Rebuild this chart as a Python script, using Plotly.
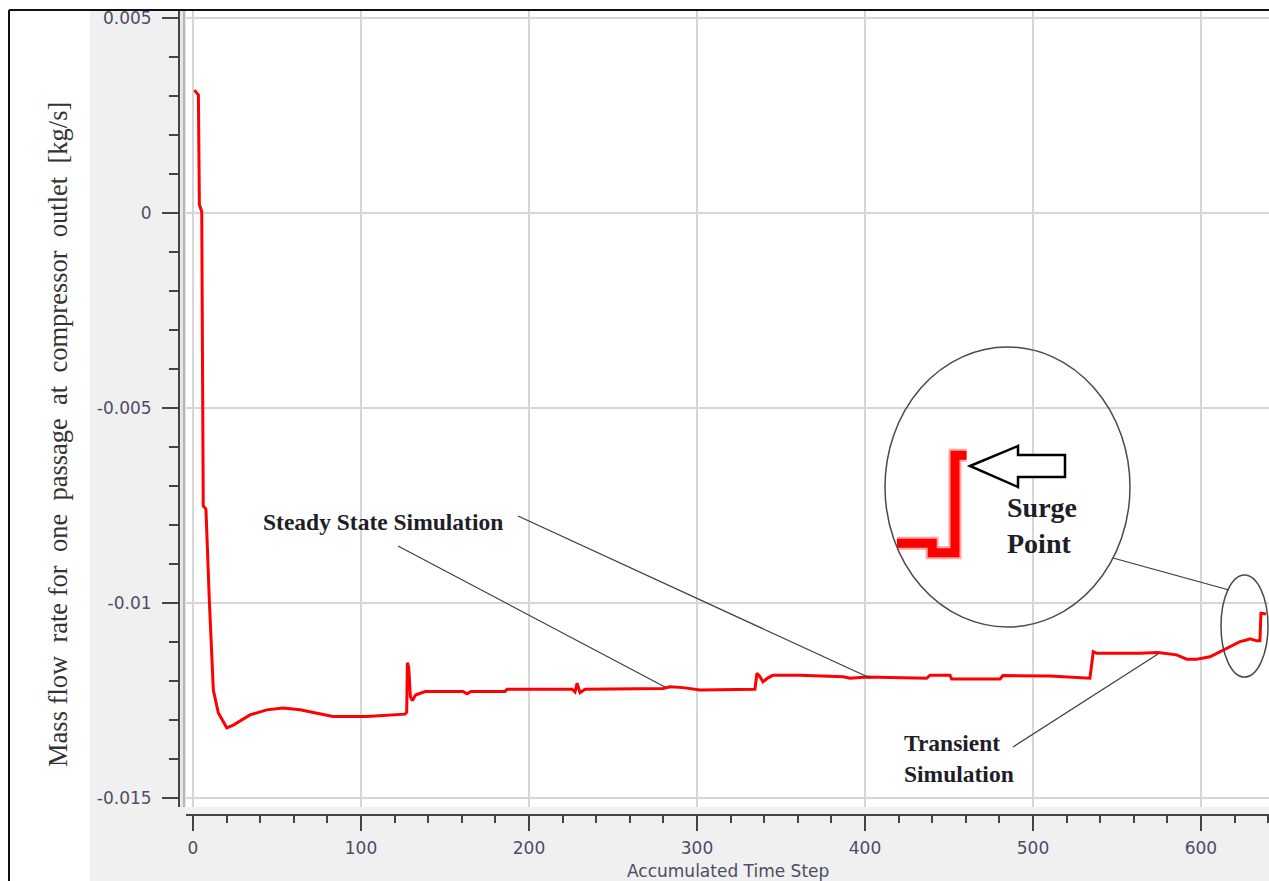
import plotly.graph_objects as go

# ---- data -------------------------------------------------------------
time_step = [0.8, 2.2, 3.2, 3.8, 5.2, 6.1, 7.7, 9.7, 12.1, 15.1, 20.1, 24.0,
             33.9, 43.9, 53.6, 63.7, 73.6, 83.3, 103.4, 123.2, 126.2, 127.2,
             127.6, 128.4, 129.4, 130.6, 132.5, 138.1, 160.7, 163.1, 165.5,
             185.7, 187.0, 225.6, 227.4, 228.6, 230.4, 233.3, 279.8, 284.0,
             291.7, 301.8, 334.5, 335.7, 337.5, 339.3, 342.3, 345.2, 361.3,
             387.1, 391.1, 401.0, 436.7, 438.7, 450.6, 451.6, 480.4, 482.1,
             510.1, 533.9, 535.9, 538.1, 563.7, 574.4, 585.5, 591.5, 597.4,
             605.4, 613.1, 619.0, 623.2, 627.2, 629.2, 633.3, 635.1, 635.7,
             638.7]
mass_flow = [0.00315, 0.00306, 0.00303, 0.00021, 0.00003, -0.00751, -0.00759,
             -0.00992, -0.01223, -0.01282, -0.01320, -0.01313, -0.01287,
             -0.01274, -0.01269, -0.01274, -0.01282, -0.01291, -0.01291,
             -0.01285, -0.01285, -0.01280, -0.01153, -0.01165, -0.01240,
             -0.01250, -0.01236, -0.01227, -0.01227, -0.01233, -0.01227,
             -0.01227, -0.01221, -0.01221, -0.01228, -0.01206, -0.01230,
             -0.01221, -0.01219, -0.01215, -0.01217, -0.01223, -0.01221,
             -0.01180, -0.01189, -0.01202, -0.01192, -0.01185, -0.01185,
             -0.01189, -0.01193, -0.01190, -0.01193, -0.01185, -0.01185,
             -0.01195, -0.01195, -0.01186, -0.01187, -0.01193, -0.01125,
             -0.01129, -0.01129, -0.01127, -0.01133, -0.01144, -0.01144,
             -0.01138, -0.01121, -0.01108, -0.01099, -0.01095, -0.01092,
             -0.01097, -0.01097, -0.01026, -0.01028]

# magnified view of the last steps (surge point)
zoom_step = [626.5, 630.9, 630.9, 633.75, 633.75, 635.2]
zoom_flow = [-0.01085, -0.01085, -0.01092, -0.01092, -0.01019, -0.01019]

x_ticks = [0, 100, 200, 300, 400, 500, 600]
y_ticks = [-0.015, -0.01, -0.005, 0, 0.005]
y_tick_text = ["-0.015", "-0.01", "-0.005", "0", "0.005"]

# ---- figure geometry (pixels) -----------------------------------------
W, H = 1269, 881


def fx(p):
    return p / W


def fy(p):
    return 1 - p / H


TICK_FONT = dict(family="DejaVu Sans", size=17, color="#4d4d66")
SERIF_B = "Liberation Serif"

fig = go.Figure()
fig.add_trace(go.Scatter(x=time_step, y=mass_flow, mode="lines",
                         line=dict(color="#ff0000", width=3),
                         showlegend=False, hoverinfo="skip"))
# inset trace: soft halo + solid core
fig.add_trace(go.Scatter(x=zoom_step, y=zoom_flow, mode="lines",
                         line=dict(color="rgba(255,0,0,0.35)", width=13),
                         xaxis="x2", yaxis="y2", showlegend=False,
                         hoverinfo="skip"))
fig.add_trace(go.Scatter(x=zoom_step, y=zoom_flow, mode="lines",
                         line=dict(color="#ff0000", width=9),
                         xaxis="x2", yaxis="y2", showlegend=False,
                         hoverinfo="skip"))

axis_common = dict(showgrid=True, gridcolor="#d6d6d6", gridwidth=1.5,
                   zeroline=False, showline=True, linecolor="#444444",
                   linewidth=2, ticks="outside", tickcolor="#444444",
                   tickwidth=2, tickfont=TICK_FONT, automargin=False,
                   anchor="free")

fig.update_layout(
    width=W, height=H,
    margin=dict(l=0, r=0, t=0, b=0, pad=0),
    paper_bgcolor="#f0f0f0",
    plot_bgcolor="#ffffff",
    xaxis=dict(domain=[fx(186), 1.0], range=[-4.17, 640.5],
               position=fy(815), tickmode="array", tickvals=x_ticks,
               ticklen=15, ticklabelstandoff=3,
               minor=dict(tickmode="linear", tick0=0, dtick=20, ticklen=7,
                          tickcolor="#444444", tickwidth=2, ticks="outside",
                          showgrid=False),
               **axis_common),
    yaxis=dict(domain=[fy(807), fy(11)], range=[-0.015231, 0.005179],
               position=fx(179), tickmode="array", tickvals=y_ticks,
               ticktext=y_tick_text, ticklen=16, ticklabelstandoff=7,
               minor=dict(tickmode="linear", tick0=0, dtick=0.001,
                          ticklen=9, tickcolor="#444444", tickwidth=2,
                          ticks="outside", showgrid=False),
               **axis_common),
    xaxis2=dict(domain=[fx(885), fx(985)], range=[625, 637.5],
                anchor="y2", visible=False),
    yaxis2=dict(domain=[fy(570), fy(430)], range=[-0.01105, -0.01000],
                anchor="x2", visible=False),
)

shapes = []
# white surround and outer frame
shapes.append(dict(type="rect", xref="paper", yref="paper", x0=0, x1=fx(90),
                   y0=0, y1=1, fillcolor="#ffffff", line_width=0,
                   layer="below"))
shapes.append(dict(type="rect", xref="paper", yref="paper", x0=0, x1=1,
                   y0=fy(10), y1=1, fillcolor="#ffffff", line_width=0,
                   layer="below"))
shapes.append(dict(type="line", xref="paper", yref="paper", x0=fx(9),
                   x1=1, y0=fy(10), y1=fy(10),
                   line=dict(color="#111111", width=2)))
shapes.append(dict(type="line", xref="paper", yref="paper", x0=fx(9),
                   x1=fx(9), y0=0, y1=fy(10),
                   line=dict(color="#111111", width=2)))
# double frame strip beside the value axis
shapes.append(dict(type="rect", xref="paper", yref="paper", x0=fx(180.5),
                   x1=fx(186), y0=fy(807), y1=fy(11), fillcolor="#e4e4e4",
                   line_width=0))
shapes.append(dict(type="line", xref="paper", yref="paper", x0=fx(184),
                   x1=fx(184), y0=fy(807), y1=fy(11),
                   line=dict(color="#a8a8a8", width=1.5)))

# callout ellipses
shapes.append(dict(type="circle", xref="paper", yref="paper",
                   x0=fx(885), x1=fx(1130), y0=fy(627), y1=fy(347),
                   line=dict(color="#4a4a4a", width=1.5)))
shapes.append(dict(type="circle", xref="paper", yref="paper",
                   x0=fx(1221), x1=fx(1268), y0=fy(677), y1=fy(575),
                   line=dict(color="#4a4a4a", width=1.5)))

# leader lines
leaders = [((398, 546), (665, 687)),
           ((518, 516), (870, 678)),
           ((1013, 747), (1158, 654)),
           ((1113, 558), (1229, 590))]
for (xa, ya), (xb, yb) in leaders:
    shapes.append(dict(type="line", xref="paper", yref="paper",
                       x0=fx(xa), y0=fy(ya), x1=fx(xb), y1=fy(yb),
                       line=dict(color="#3c3c3c", width=1.2)))

# hollow arrow pointing at the surge point
arrow_pts = [(970, 466), (1018, 446), (1018, 455), (1065, 455), (1065, 477),
             (1018, 477), (1018, 487)]
path = "M " + " L ".join(f"{fx(a):.5f},{fy(b):.5f}" for a, b in arrow_pts) + " Z"
shapes.append(dict(type="path", xref="paper", yref="paper", path=path,
                   fillcolor="#ffffff", line=dict(color="#000000", width=2.5)))

fig.update_layout(shapes=shapes)

annotations = [
    dict(text="Steady State Simulation", x=fx(383), y=fy(522),
         font=dict(family=SERIF_B, size=23.5, color="#1e1e28")),
    dict(text="Transient<br>Simulation", x=fx(902), y=fy(758),
         xanchor="left", align="left",
         font=dict(family=SERIF_B, size=23.5, color="#1e1e28")),
    dict(text="Surge<br>Point", x=fx(1005), y=fy(525),
         xanchor="left", align="left",
         font=dict(family=SERIF_B, size=28, color="#1e1e28")),
    dict(text="Accumulated Time Step", x=fx(728), y=fy(871),
         font=dict(family="DejaVu Sans", size=17, color="#4d4d66")),
    dict(text="Mass flow\u00a0 rate for\u00a0 one\u00a0 passage\u00a0 at\u00a0 "
              "compressor\u00a0 outlet\u00a0 [kg/s]",
         x=fx(58), y=fy(435), textangle=-90,
         font=dict(family="Liberation Serif", size=26.5, color="#333333")),
]
for a in annotations:
    a.setdefault("xanchor", "center")
    a.update(xref="paper", yref="paper", yanchor="middle", showarrow=False)
fig.update_layout(annotations=annotations)

# bold weight for the serif callout labels
for a in fig.layout.annotations[:3]:
    a.font.weight = "bold"

fig.write_html("out.html")
